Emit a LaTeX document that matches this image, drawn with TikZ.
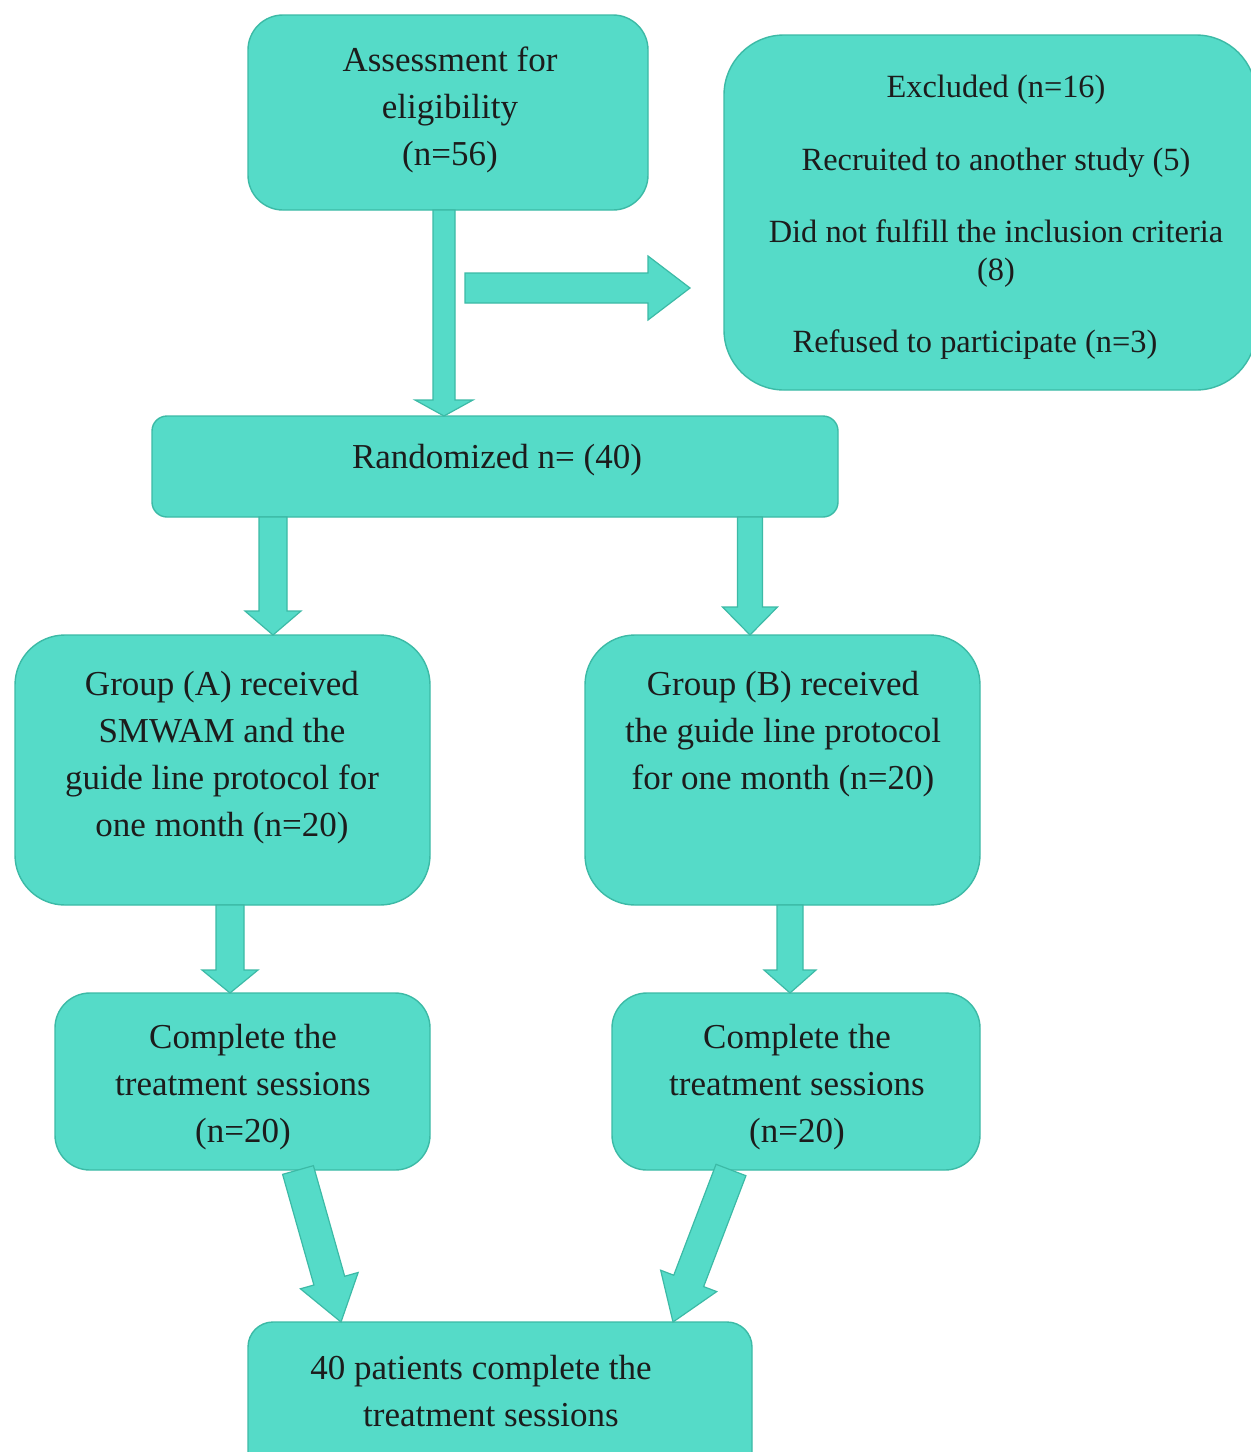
\documentclass[tikz,border=0pt]{standalone}
\usepackage{fontspec}
\setmainfont{Liberation Serif}
\usetikzlibrary{calc}
\definecolor{boxfill}{RGB}{85,219,200}
\definecolor{boxedge}{RGB}{60,186,166}
\definecolor{txt}{RGB}{28,28,28}
\tikzset{
  box/.style={draw=boxedge, fill=boxfill, line width=0.7pt, rectangle, inner sep=0pt, outer sep=0pt},
  lbl/.style={text=txt, align=center, inner sep=0pt, font=\fontsize{17.5pt}{23.5pt}\selectfont},
  lblex/.style={text=txt, align=center, inner sep=0pt, font=\fontsize{16.2pt}{19pt}\selectfont},
  arrowstyle/.style={draw=boxedge, fill=boxfill, line width=0.6pt, line join=miter}
}
\newcommand{\blockarrow}[5]{%
  \path ($(#2)!#5!(#1)$) coordinate (bah);
  \filldraw[arrowstyle] ($(#1)!#3!90:(#2)$) -- ($(bah)!#3!90:(#2)$) -- ($(bah)!#4!90:(#2)$) -- (#2) -- ($(bah)!#4!-90:(#2)$) -- ($(bah)!#3!-90:(#2)$) -- ($(#1)!#3!-90:(#2)$) -- cycle;
}
\begin{document}
\begin{tikzpicture}[x=0.5pt,y=-0.5pt]
\useasboundingbox[fill=white] (0,0) rectangle (1250,1452);

% boxes
\node[box, rounded corners=17.5pt, minimum width=200pt, minimum height=97.5pt] (assess) at (448,112.5) {};
\node[box, rounded corners=30pt, minimum width=266pt, minimum height=177.5pt] (excl) at (990,212.5) {};
\node[box, rounded corners=7.5pt, minimum width=343pt, minimum height=50.5pt] (rand) at (495,466.5) {};
\node[box, rounded corners=25pt, minimum width=207.5pt, minimum height=135pt] (ga) at (222.5,770) {};
\node[box, rounded corners=25pt, minimum width=197.5pt, minimum height=135pt] (gb) at (782.5,770) {};
\node[box, rounded corners=17.5pt, minimum width=187.5pt, minimum height=88.5pt] (ca) at (242.5,1081.5) {};
\node[box, rounded corners=17.5pt, minimum width=184pt, minimum height=88.5pt] (cb) at (796,1081.5) {};
\node[box, rounded corners=12.5pt, minimum width=252pt, minimum height=79pt] (final) at (500,1401) {};

% texts
\node[lbl] (assesst) at (450,110) {Assessment for\\eligibility\\(n=56)};
\node[lblex] (ex1) at (996,90) {Excluded (n=16)};
\node[lblex] (ex2) at (996,163) {Recruited to another study (5)};
\node[lblex] (ex3) at (996,254) {Did not fulfill the inclusion criteria\\(8)};
\node[lblex] (ex4) at (975,345) {Refused to participate (n=3)};
\node[lbl] (randt) at (497,460) {Randomized n= (40)};
\node[lbl] (gat) at (222,758) {Group (A) received\\SMWAM and the\\guide line protocol for\\one month (n=20)};
\node[lbl] (gbt) at (783,734) {Group (B) received\\the guide line protocol\\for one month (n=20)};
\node[lbl] (cat) at (243,1087) {Complete the\\treatment sessions\\(n=20)};
\node[lbl] (cbt) at (797,1087) {Complete the\\treatment sessions\\(n=20)};
\node[lbl] (finalt) at (481,1391) {40 patients complete the\\\hspace*{10pt}treatment sessions};

% arrows
\coordinate (a1s) at ($(assess.south)+(-4,0)$);
\coordinate (a1e) at (a1s |- rand.north);
\blockarrow{a1s}{a1e}{5.5pt}{14.5pt}{8pt}

\coordinate (a2s) at (465,288);
\coordinate (a2e) at (690,288);
\blockarrow{a2s}{a2e}{7.5pt}{16pt}{21pt}

\coordinate (a3s) at (rand.south -| 273,0);
\coordinate (a3e) at (a3s |- ga.north);
\blockarrow{a3s}{a3e}{7pt}{14pt}{12pt}

\coordinate (a4s) at (rand.south -| 750,0);
\coordinate (a4e) at (a4s |- gb.north);
\blockarrow{a4s}{a4e}{6.25pt}{13.75pt}{14pt}

\coordinate (a5s) at (ga.south -| 230,0);
\coordinate (a5e) at (a5s |- ca.north);
\blockarrow{a5s}{a5e}{7pt}{14pt}{11.5pt}

\coordinate (a6s) at (gb.south -| 790,0);
\coordinate (a6e) at (a6s |- cb.north);
\blockarrow{a6s}{a6e}{6.5pt}{13pt}{11.5pt}

\coordinate (a7s) at (ca.south -| 298,0);
\coordinate (a7e) at (final.north -| 341,0);
\blockarrow{a7s}{a7e}{8pt}{15pt}{21.5pt}

\coordinate (a8s) at (cb.south -| 731,0);
\coordinate (a8e) at (final.north -| 673,0);
\blockarrow{a8s}{a8e}{8pt}{15pt}{22pt}
\end{tikzpicture}
\end{document}
